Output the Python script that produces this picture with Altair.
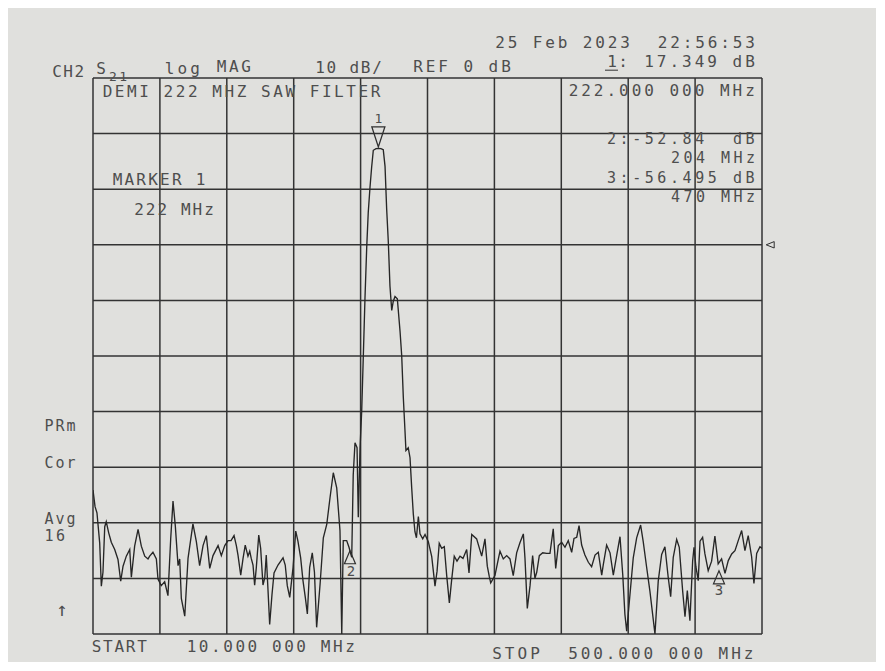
import altair as alt
import pandas as pd

# ---------------- trace data (MHz, dB) ----------------
left_f = [10.0, 11.5, 12.9, 14.9, 16.1, 17.3, 18.6, 19.7, 21.5, 23.4, 25.9, 28.3, 30.3, 32.0, 34.4,
          36.9, 38.1, 40.5, 43.0, 45.4, 47.9, 50.3, 51.5, 53.9, 56.4, 57.6, 60.0, 62.5, 64.9, 66.9,
          68.6, 70.3, 72.3, 73.5, 74.7, 77.2, 79.6, 83.2, 85.7, 88.1, 90.6, 93.0, 95.5, 97.9, 101.6,
          104.0, 106.5, 108.9, 111.1, 113.3, 115.0, 116.2, 118.2, 119.9, 121.5, 123.5, 124.8, 125.9,
          127.2, 128.4, 129.6, 131.4, 132.8, 134.5, 135.8, 136.9, 138.2, 139.4, 141.1, 142.6, 145.5,
          149.2, 150.8, 152.3, 154.1, 156.5, 158.5, 160.1, 162.1, 163.8, 165.5, 167.0, 168.7, 170.6,
          172.2, 173.8, 176.3, 178.7, 181.2, 183.6, 186.0, 188.5, 190.9, 192.2, 193.3, 195.8, 197.5,
          199.5]
left_db = [-44.1, -47.1, -48.2, -53.6, -61.4, -58.9, -50.7, -49.8, -51.8, -53.5, -54.8, -56.6, -60.5, -57.8, -56.0,
           -54.8, -59.8, -54.2, -51.2, -54.2, -56.0, -56.5, -56.0, -55.3, -56.5, -60.1, -61.3, -60.6, -63.1, -52.9,
           -46.1, -50.6, -57.7, -56.5, -63.6, -66.8, -56.4, -50.2, -53.4, -57.7, -54.1, -52.3, -58.2, -55.9, -54.1,
           -55.9, -54.1, -53.2, -53.2, -52.3, -54.1, -55.8, -59.4, -56.4, -54.0, -56.0, -55.1, -56.4,
           -57.6, -61.2, -58.1, -52.2, -54.6, -61.2, -59.9, -55.8, -62.2, -68.3, -62.9, -59.0, -57.6,
           -56.3, -57.6, -61.3, -63.4, -58.1, -51.5, -53.3, -56.3, -60.4, -63.4, -66.4, -58.0, -55.4,
           -58.9, -68.8, -61.1, -52.7, -50.3, -45.5, -41.0, -43.7, -51.4, -70.0, -53.2, -53.2, -54.4,
           -56.2]

peak_f = [200.6, 201.9, 203.4, 204.3, 205.6, 206.8, 208.0, 209.2, 210.5, 211.6, 212.9, 214.1, 215.3,
          217.3, 219.0, 220.9, 222.6, 223.9, 225.1, 226.3, 227.5, 228.8, 229.9, 231.2, 232.9, 234.9,
          236.1, 237.3, 238.5, 239.2, 240.9, 242.2, 243.4, 244.6, 245.8, 246.9, 248.3, 249.5, 251.5,
          253.2, 255.6, 258.1]
peak_db = [-41.4, -35.6, -36.5, -49.0, -36.5, -29.9, -19.9, -9.7, -0.3, 5.8, 10.4, 14.0, 17.0,
           17.3, 17.35, 17.3, 17.1, 14.1, 6.4, 0.5, -7.4, -11.8, -10.2, -9.3, -9.7, -15.6,
           -19.9, -27.5, -33.4, -37.0, -36.5, -38.3, -43.6, -48.4, -51.6, -52.7, -48.9, -52.0, -52.9,
           -52.1, -53.4, -56.1]

right_f = [260.5, 262.0, 263.6, 265.4, 267.3, 269.1, 271.0, 272.6, 274.6, 276.6, 278.8, 281.0, 283.7,
           285.4, 287.4, 291.0, 294.7, 297.1, 298.8, 300.2, 301.3, 304.4, 306.9, 308.1, 310.5, 313.0,
           315.4, 317.8, 320.3, 322.7, 325.2, 326.4, 328.1, 330.1, 332.0, 333.7, 335.0, 336.9, 339.4,
           342.3, 344.7, 347.1, 348.9, 350.8, 353.3, 355.7, 358.1, 360.6, 362.3, 364.3, 366.0, 367.9,
           370.3, 372.8, 375.2, 377.7, 380.1, 382.6, 383.7, 386.2, 388.7, 391.1, 393.6, 396.0, 398.0,
           399.6, 400.9, 403.3, 405.7, 408.2, 411.1, 413.0, 415.5, 417.9, 421.6, 424.0, 426.5, 428.9,
           431.3, 433.1, 435.0, 437.5, 439.4, 441.9, 443.6, 445.3, 447.2, 449.2, 450.2, 451.6, 453.3,
           454.6, 456.5, 458.2, 460.6, 463.1, 465.5, 467.9, 470.4, 472.9, 475.3, 477.8, 480.2, 482.6,
           485.1, 487.5, 489.9, 492.4, 494.1, 496.1, 498.5, 500.0]
right_db = [-61.4, -58.7, -53.7, -54.6, -54.3, -59.6, -64.4, -60.5, -56.0, -56.9, -56.0, -56.4, -54.8,
            -59.0, -52.1, -52.9, -56.0, -52.9, -57.8, -59.6, -60.8, -59.5, -56.5, -55.1, -56.5, -55.9,
            -56.5, -59.5, -55.4, -53.6, -52.0, -56.4, -65.4, -61.3, -55.9, -60.0, -58.9, -55.9, -55.4,
            -55.5, -55.5, -51.1, -58.2, -54.1, -53.5, -54.4, -53.2, -55.3, -52.8, -52.6, -50.5, -54.0,
            -55.8, -57.1, -57.9, -55.8, -55.3, -59.4, -57.6, -54.0, -55.4, -59.4, -55.8, -52.5, -59.3,
            -66.5, -69.5, -62.9, -56.3, -52.7, -50.4, -53.4, -58.0, -62.3, -70.0, -60.5, -55.7, -54.3,
            -59.8, -63.3, -56.2, -53.0, -54.4, -62.3, -66.9, -62.2, -67.6, -56.9, -54.4, -57.9, -60.4,
            -53.3, -52.6, -55.6, -58.6, -56.9, -52.4, -57.4, -56.5, -59.1, -56.8, -55.6, -55.0, -53.2,
            -51.4, -55.0, -52.3, -56.1, -60.9, -55.5, -54.3, -54.6]

assert len(left_f) == len(left_db)
assert len(peak_f) == len(peak_db)
assert len(right_f) == len(right_db)

freq = left_f + peak_f + right_f
db = left_db + peak_db + right_db

# graticule: 10 divisions each way
grid_f = [10 + 49 * k for k in range(11)]
grid_db = [-70 + 10 * k for k in range(11)]
f_lo, f_hi = 10, 500
db_lo, db_hi = -70, 30

# markers (MHz, dB)
m1_f, m1_db = [219.0], [19.4]
m23_f, m23_db = [198.2, 468.5], [-56.2, -59.8]
ref_f, ref_db = [506.0], [0.0]

# ---------------- annotation texts ----------------
label_text = ["25 Feb 2023  22:56:53", "CH2", "S", "21", "log", "MAG", "10 dB/", "REF 0 dB",
              "1:", "17.349 dB",
              "DEMI 222 MHZ SAW FILTER", "MARKER 1", "222 MHz",
              "222.000 000 MHz", "2:-52.84  dB", "204 MHz", "3:-56.495 dB", "470 MHz",
              "PRm", "Cor", "Avg", "16", "\u2191",
              "START", "10.000 000 MHz", "STOP", "500.000 000 MHz",
              "1", "2", "3"]
label_f0 = [308.1, -16.4, 15.9, 24.6, 66.0, 104.1, 176.3, 248.0,
            390.1, 417.2,
            20.6, 27.9, 43.7,
            361.9, 389.8, 436.6, 389.8, 436.6,
            -22.2, -22.2, -22.2, -22.2, -12.7,
            12.6, 82.1, 305.9, 361.6,
            219.0, 199.0, 468.5]
label_f1 = [491.2, -0.1, 15.9, 32.0, 84.7, 122.1, 218.0, 312.5,
            398.2, 491.2,
            216.9, 88.7, 95.0,
            491.2, 491.2, 491.6, 491.2, 491.6,
            -6.1, -6.1, -6.1, -13.8, -12.7,
            45.9, 198.2, 333.7, 490.1,
            219.0, 199.0, 468.5]
label_db = [36.3, 31.0, 31.6, 30.1, 31.6, 31.9, 31.8, 32.0,
            32.8, 32.8,
            27.4, 11.65, 6.26,
            27.66, 19.1, 15.7, 12.0, 8.6,
            -32.6, -39.2, -49.3, -52.4, -65.7,
            -72.3, -72.4, -73.6, -73.6,
            22.6, -58.9, -62.3]
label_size = [16, 16, 16, 13, 16, 16, 16, 16,
              16, 16,
              16, 16, 16,
              16, 15, 15, 15, 15,
              15, 15, 15, 15, 19,
              16, 16, 16, 16,
              13, 14, 14]

rows = []
for t, a, b, y, s in zip(label_text, label_f0, label_f1, label_db, label_size):
    n = len(t)
    step = (b - a) / (n - 1) if n > 1 else 0.0
    for i, ch in enumerate(t):
        if ch != " ":
            rows.append({"x": a + i * step, "y": y, "c": ch, "s": s})
chars_df = pd.DataFrame(rows)

# ---------------- chart ----------------
W, H = 669, 556
PAPER = "#e0e0dd"
INK = "#333333"
TXT = "#4e4e4e"

xs = alt.Scale(domain=[f_lo, f_hi], nice=False, zero=False)
ys = alt.Scale(domain=[db_lo, db_hi], nice=False, zero=False)

vgrid_df = pd.DataFrame({"f": grid_f, "lo": [db_lo] * len(grid_f), "hi": [db_hi] * len(grid_f)})
hgrid_df = pd.DataFrame({"d": grid_db, "lo": [f_lo] * len(grid_db), "hi": [f_hi] * len(grid_db)})

vgrid = alt.Chart(vgrid_df).mark_rule(color=INK, strokeWidth=1.5).encode(
    x=alt.X("f:Q", scale=xs, axis=None),
    y=alt.Y("lo:Q", scale=ys, axis=None),
    y2="hi:Q",
)
hgrid = alt.Chart(hgrid_df).mark_rule(color=INK, strokeWidth=1.5).encode(
    y=alt.Y("d:Q", scale=ys, axis=None),
    x=alt.X("lo:Q", scale=xs, axis=None),
    x2="hi:Q",
)

trace = alt.Chart(pd.DataFrame({"f": freq, "db": db})).mark_line(
    color="#262626", strokeWidth=1.35, clip=True
).encode(
    x=alt.X("f:Q", scale=xs, axis=None),
    y=alt.Y("db:Q", scale=ys, axis=None),
)

m1 = alt.Chart(pd.DataFrame({"f": m1_f, "db": m1_db})).mark_point(
    shape="M-0.65,-1L0.65,-1L0,1Z", size=400, filled=False, color="#2f2f2f", strokeWidth=1.3, opacity=1
).encode(x=alt.X("f:Q", scale=xs, axis=None), y=alt.Y("db:Q", scale=ys, axis=None))

m23 = alt.Chart(pd.DataFrame({"f": m23_f, "db": m23_db})).mark_point(
    shape="M0,-1L-0.85,1L0.85,1Z", size=169, filled=False, color="#2f2f2f", strokeWidth=1.2, opacity=1
).encode(x=alt.X("f:Q", scale=xs, axis=None), y=alt.Y("db:Q", scale=ys, axis=None))

refm = alt.Chart(pd.DataFrame({"f": ref_f, "db": ref_db})).mark_point(
    shape="M-1,0L1,-0.8L1,0.8Z", size=64, filled=False, color="#2f2f2f", strokeWidth=1.0, opacity=1
).encode(x=alt.X("f:Q", scale=xs, axis=None), y=alt.Y("db:Q", scale=ys, axis=None))

underline = alt.Chart(pd.DataFrame({"a": [385.0], "b": [394.5], "y": [31.4]})).mark_rule(
    color=TXT, strokeWidth=1.2
).encode(
    x=alt.X("a:Q", scale=xs, axis=None), x2="b:Q", y=alt.Y("y:Q", scale=ys, axis=None)
)

texts = alt.Chart(chars_df).mark_text(
    font="DejaVu Sans Mono", color=TXT, align="center", baseline="middle"
).encode(
    x=alt.X("x:Q", scale=xs, axis=None),
    y=alt.Y("y:Q", scale=ys, axis=None),
    text="c:N",
    size=alt.Size("s:Q", scale=None, legend=None),
)

chart = alt.layer(vgrid, hgrid, trace, m1, m23, refm, underline, texts).properties(
    width=W,
    height=H,
    background=PAPER,
    padding={"left": 85, "top": 70, "right": 114, "bottom": 28},
    autosize=alt.AutoSizeParams(type="none"),
).configure_view(stroke=None, fill=PAPER)

chart.save("out.html", embed_options={"renderer": "svg", "actions": False})
